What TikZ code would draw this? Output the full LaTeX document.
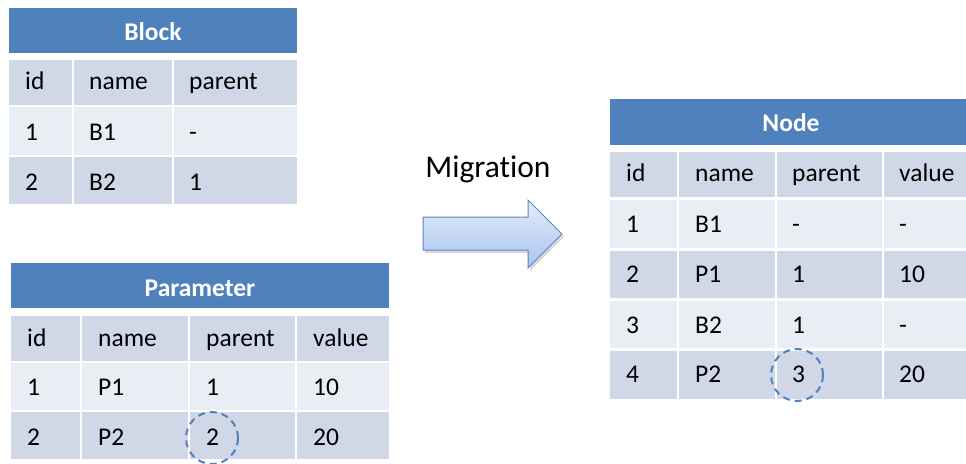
\documentclass[tikz,border=0pt]{standalone}
\usepackage{fontspec}
\setmainfont{Carlito}[Ligatures=NoCommon]
\usepackage{tikz}
\usepackage{xcolor}
\usetikzlibrary{shadows}

\definecolor{hdrblue}{HTML}{4F81BD}
\definecolor{rowdark}{HTML}{D0D8E8}
\definecolor{rowlight}{HTML}{E9EDF4}
\definecolor{arrowtop}{HTML}{E3ECFA}
\definecolor{arrowbot}{HTML}{A8C5F1}
\definecolor{arrowline}{HTML}{5A86C4}
\newcommand{\tblfont}{\fontsize{25.5}{30}\selectfont}

\tikzset{
  celltxt/.style={anchor=base west, inner sep=0pt, font=\tblfont},
  hdrtxt/.style={anchor=base, inner sep=0pt, text=white, font=\tblfont\bfseries},
  ringmark/.style={draw=hdrblue, line width=2pt, dash pattern=on 7pt off 5pt}
}

\begin{document}
\begin{tikzpicture}[x=1pt,y=-1pt]
\useasboundingbox (0,0) rectangle (966,463);
% Block
\fill[hdrblue] (9,8) rectangle (297,53);
\node[hdrtxt] (blk) at (153,40) {Block};
\fill[rowdark] (9,60) rectangle (72,105);
\node[celltxt] (blk-id) at (25,89) {id};
\fill[rowdark] (74,60) rectangle (172,105);
\node[celltxt] (blk-name) at (89,89) {name};
\fill[rowdark] (174,60) rectangle (297,105);
\node[celltxt] (blk-parent) at (189,89) {parent};
\fill[rowlight] (9,107) rectangle (72,155);
\node[celltxt] (blk-1id) at (25,140) {1};
\fill[rowlight] (74,107) rectangle (172,155);
\node[celltxt] (blk-1name) at (89,140) {B1};
\fill[rowlight] (174,107) rectangle (297,155);
\node[celltxt] (blk-1parent) at (189,140) {-};
\fill[rowdark] (9,157) rectangle (72,204);
\node[celltxt] (blk-2id) at (25,190) {2};
\fill[rowdark] (74,157) rectangle (172,204);
\node[celltxt] (blk-2name) at (89,190) {B2};
\fill[rowdark] (174,157) rectangle (297,204);
\node[celltxt] (blk-2parent) at (189,190) {1};
% Parameter
\fill[hdrblue] (11,263) rectangle (389,308);
\node[hdrtxt] (par) at (200,296) {Parameter};
\fill[rowdark] (11,316) rectangle (80,361);
\node[celltxt] (par-id) at (27,346) {id};
\fill[rowdark] (82,316) rectangle (188,361);
\node[celltxt] (par-name) at (98,346) {name};
\fill[rowdark] (190,316) rectangle (295,361);
\node[celltxt] (par-parent) at (206,346) {parent};
\fill[rowdark] (297,316) rectangle (389,361);
\node[celltxt] (par-value) at (313,346) {value};
\fill[rowlight] (11,363) rectangle (80,410);
\node[celltxt] (par-1id) at (27,395) {1};
\fill[rowlight] (82,363) rectangle (188,410);
\node[celltxt] (par-1name) at (98,395) {P1};
\fill[rowlight] (190,363) rectangle (295,410);
\node[celltxt] (par-1parent) at (206,395) {1};
\fill[rowlight] (297,363) rectangle (389,410);
\node[celltxt] (par-1value) at (313,395) {10};
\fill[rowdark] (11,412) rectangle (80,459);
\node[celltxt] (par-2id) at (27,445) {2};
\fill[rowdark] (82,412) rectangle (188,459);
\node[celltxt] (par-2name) at (98,445) {P2};
\fill[rowdark] (190,412) rectangle (295,459);
\node[celltxt] (par-2parent) at (206,445) {2};
\fill[rowdark] (297,412) rectangle (389,459);
\node[celltxt] (par-2value) at (313,445) {20};
\draw[ringmark] (212,438) circle[radius=26pt];
% Migration
\node[anchor=base, inner sep=0pt, font=\fontsize{31.5}{36}\selectfont] (mig) at (488,177) {Migration};
\draw[arrowline, line width=1pt, top color=arrowtop, bottom color=arrowbot,
  drop shadow={shadow xshift=2pt, shadow yshift=-3pt, opacity=0.3}]
  (423,217) -- (528,217) -- (528,200) -- (562,234) -- (528,268) -- (528,250) -- (423,250) -- cycle;
% Node
\fill[hdrblue] (610,99) rectangle (972,145);
\node[hdrtxt] (nod) at (791,131) {Node};
\fill[rowdark] (610,152) rectangle (677,197);
\node[celltxt] (nod-id) at (626,181) {id};
\fill[rowdark] (679,152) rectangle (775,197);
\node[celltxt] (nod-name) at (695,181) {name};
\fill[rowdark] (777,152) rectangle (882,197);
\node[celltxt] (nod-parent) at (792,181) {parent};
\fill[rowdark] (884,152) rectangle (972,197);
\node[celltxt] (nod-value) at (899,181) {value};
\fill[rowlight] (610,200) rectangle (677,248);
\node[celltxt] (nod-1id) at (626,232) {1};
\fill[rowlight] (679,200) rectangle (775,248);
\node[celltxt] (nod-1name) at (695,232) {B1};
\fill[rowlight] (777,200) rectangle (882,248);
\node[celltxt] (nod-1parent) at (792,232) {-};
\fill[rowlight] (884,200) rectangle (972,248);
\node[celltxt] (nod-1value) at (899,232) {-};
\fill[rowdark] (610,251) rectangle (677,298);
\node[celltxt] (nod-2id) at (626,282) {2};
\fill[rowdark] (679,251) rectangle (775,298);
\node[celltxt] (nod-2name) at (695,282) {P1};
\fill[rowdark] (777,251) rectangle (882,298);
\node[celltxt] (nod-2parent) at (792,282) {1};
\fill[rowdark] (884,251) rectangle (972,298);
\node[celltxt] (nod-2value) at (899,282) {10};
\fill[rowlight] (610,301) rectangle (677,348);
\node[celltxt] (nod-3id) at (626,333) {3};
\fill[rowlight] (679,301) rectangle (775,348);
\node[celltxt] (nod-3name) at (695,333) {B2};
\fill[rowlight] (777,301) rectangle (882,348);
\node[celltxt] (nod-3parent) at (792,333) {1};
\fill[rowlight] (884,301) rectangle (972,348);
\node[celltxt] (nod-3value) at (899,333) {-};
\fill[rowdark] (610,351) rectangle (677,399);
\node[celltxt] (nod-4id) at (626,382) {4};
\fill[rowdark] (679,351) rectangle (775,399);
\node[celltxt] (nod-4name) at (695,382) {P2};
\fill[rowdark] (777,351) rectangle (882,399);
\node[celltxt] (nod-4parent) at (792,382) {3};
\fill[rowdark] (884,351) rectangle (972,399);
\node[celltxt] (nod-4value) at (899,382) {20};
\draw[ringmark] (797,375) circle[radius=26pt];
\end{tikzpicture}
\end{document}
